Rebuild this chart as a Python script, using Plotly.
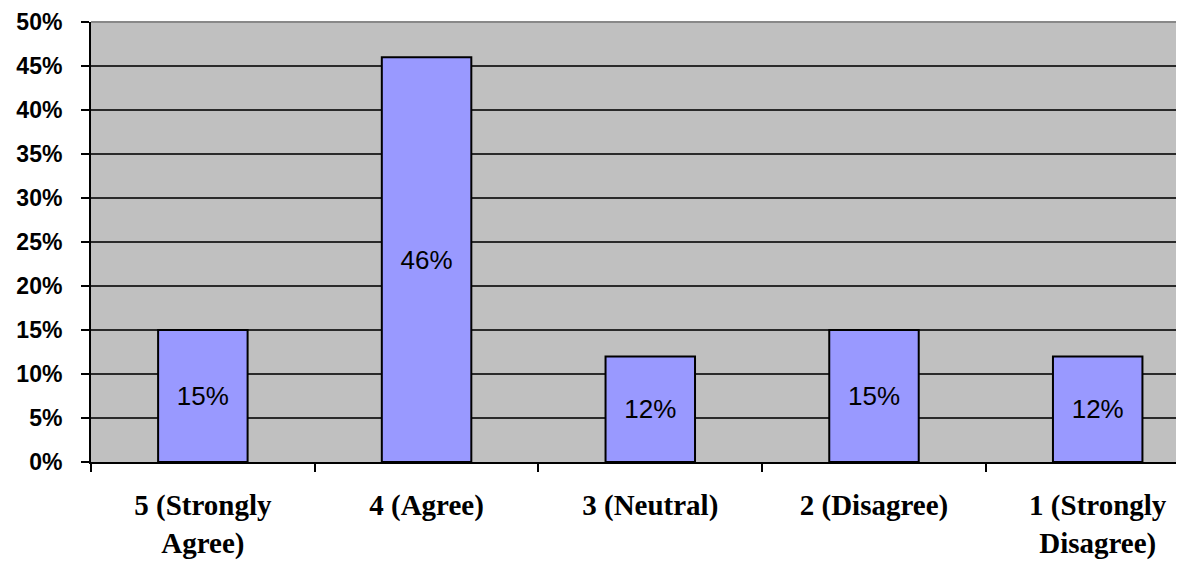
import plotly.graph_objects as go

categories = ["5 (Strongly<br>Agree)", "4 (Agree)", "3 (Neutral)", "2 (Disagree)", "1 (Strongly<br>Disagree)"]
values = [15, 46, 12, 15, 12]
labels = [f"{v}%" for v in values]

fig = go.Figure()
fig.add_trace(go.Bar(
    x=categories, y=values, text=labels, textposition="inside",
    insidetextanchor="middle", textangle=0,
    textfont=dict(family="Liberation Sans, Arial", size=26, color="black"),
    marker=dict(color="#9999FF", line=dict(color="black", width=2)),
    width=0.40,
))

fig.update_layout(
    width=1183, height=563,
    margin=dict(l=91, r=7, t=22, b=101),
    paper_bgcolor="white", plot_bgcolor="#C0C0C0",
    showlegend=False,
    uniformtext=dict(mode=False),
    shapes=[dict(type="line", xref="paper", yref="paper", x0=0, x1=1, y0=1, y1=1,
                 line=dict(color="#888888", width=2), layer="above")],
)
fig.update_yaxes(
    range=[0, 50], tick0=0, dtick=5, ticksuffix="%",
    showgrid=True, gridcolor="#2a2a2a", gridwidth=1.5,
    showline=True, linecolor="black", linewidth=2,
    ticks="outside", ticklen=8, tickcolor="black", tickwidth=2,
    tickfont=dict(family="Liberation Sans, Arial", size=23, color="black", weight="bold"),
    ticklabelstandoff=14, automargin=False,
    zeroline=False,
)
fig.update_xaxes(
    range=[-0.5, 4.35],
    showline=True, linecolor="black", linewidth=2,
    ticks="outside", ticklen=8, tickcolor="black", tickwidth=1.5,
    tickson="boundaries",
    tickfont=dict(family="Liberation Serif, Times New Roman", size=29, color="black", weight="bold"),
    ticklabelstandoff=16, automargin=False,
)

fig.write_html("out.html")
